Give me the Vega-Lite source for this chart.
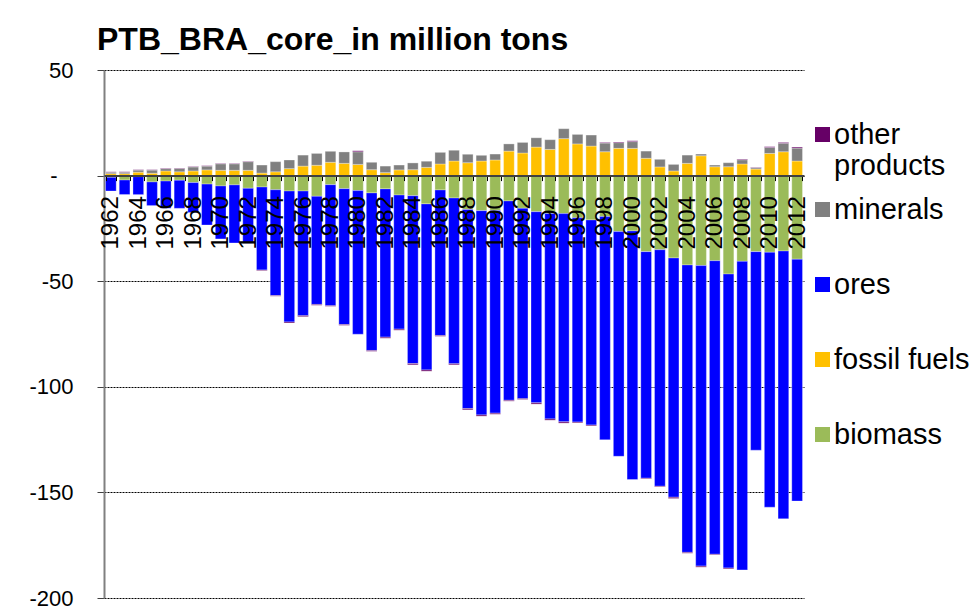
{
  "$schema": "https://vega.github.io/schema/vega-lite/v6.json",
  "autosize": "none",
  "width": 700,
  "height": 528,
  "padding": {"left": 104, "top": 70, "right": 168, "bottom": 12},
  "background": "white",
  "config": {
    "view": {"stroke": null},
    "font": "Liberation Sans"
  },
  "title": {
    "text": "PTB_BRA_core_in million tons",
    "anchor": "start",
    "frame": "group",
    "fontSize": 32,
    "fontWeight": "bold",
    "font": "Liberation Sans",
    "color": "black",
    "dx": -7,
    "offset": 2
  },
  "data": {
    "values": [
      {"year": 1962, "biomass": -0.8, "fossil fuels": 0.9, "ores": -6.5, "minerals": 0.7, "other products": 0.2},
      {"year": 1963, "biomass": -2.1, "fossil fuels": 0.9, "ores": -6.9, "minerals": 0.7, "other products": 0.2},
      {"year": 1964, "biomass": -0.5, "fossil fuels": 1.6, "ores": -8.5, "minerals": 1.0, "other products": 0.2},
      {"year": 1965, "biomass": -3.0, "fossil fuels": 1.1, "ores": -11.2, "minerals": 1.5, "other products": 0.2},
      {"year": 1966, "biomass": -2.6, "fossil fuels": 2.2, "ores": -12.9, "minerals": 1.1, "other products": 0.2},
      {"year": 1967, "biomass": -2.2, "fossil fuels": 1.8, "ores": -13.3, "minerals": 1.6, "other products": 0.2},
      {"year": 1968, "biomass": -3.3, "fossil fuels": 2.2, "ores": -14.2, "minerals": 1.9, "other products": 0.2},
      {"year": 1969, "biomass": -4.0, "fossil fuels": 2.7, "ores": -19.4, "minerals": 1.8, "other products": 0.2},
      {"year": 1970, "biomass": -4.9, "fossil fuels": 2.5, "ores": -25.1, "minerals": 3.1, "other products": 0.2},
      {"year": 1971, "biomass": -4.4, "fossil fuels": 2.5, "ores": -27.5, "minerals": 3.1, "other products": 0.2},
      {"year": 1972, "biomass": -6.0, "fossil fuels": 2.5, "ores": -26.0, "minerals": 4.1, "other products": 0.2},
      {"year": 1973, "biomass": -5.4, "fossil fuels": 1.2, "ores": -39.3, "minerals": 3.8, "other products": -0.3},
      {"year": 1974, "biomass": -6.7, "fossil fuels": 1.8, "ores": -50.1, "minerals": 4.8, "other products": -0.3},
      {"year": 1975, "biomass": -7.3, "fossil fuels": 3.3, "ores": -62.0, "minerals": 4.1, "other products": -0.5},
      {"year": 1976, "biomass": -7.3, "fossil fuels": 4.5, "ores": -59.0, "minerals": 5.2, "other products": -0.5},
      {"year": 1977, "biomass": -9.8, "fossil fuels": 4.9, "ores": -51.2, "minerals": 5.6, "other products": -0.4},
      {"year": 1978, "biomass": -4.3, "fossil fuels": 6.3, "ores": -57.3, "minerals": 5.2, "other products": -0.3},
      {"year": 1979, "biomass": -6.2, "fossil fuels": 5.8, "ores": -64.3, "minerals": 5.4, "other products": -0.4},
      {"year": 1980, "biomass": -7.1, "fossil fuels": 5.3, "ores": -68.0, "minerals": 6.0, "other products": 0.5},
      {"year": 1981, "biomass": -8.2, "fossil fuels": 2.8, "ores": -74.6, "minerals": 3.5, "other products": -0.4},
      {"year": 1982, "biomass": -6.3, "fossil fuels": 1.4, "ores": -70.2, "minerals": 3.1, "other products": -0.5},
      {"year": 1983, "biomass": -9.2, "fossil fuels": 2.7, "ores": -63.5, "minerals": 2.3, "other products": -0.5},
      {"year": 1984, "biomass": -9.5, "fossil fuels": 2.8, "ores": -79.5, "minerals": 3.2, "other products": -0.6},
      {"year": 1985, "biomass": -13.4, "fossil fuels": 3.9, "ores": -78.6, "minerals": 2.9, "other products": -0.6},
      {"year": 1986, "biomass": -6.8, "fossil fuels": 5.5, "ores": -68.9, "minerals": 5.5, "other products": -0.4},
      {"year": 1987, "biomass": -10.6, "fossil fuels": 6.9, "ores": -78.5, "minerals": 5.1, "other products": -0.5},
      {"year": 1988, "biomass": -16.0, "fossil fuels": 6.1, "ores": -94.3, "minerals": 4.0, "other products": -0.6},
      {"year": 1989, "biomass": -16.6, "fossil fuels": 6.9, "ores": -96.7, "minerals": 2.7, "other products": -0.6},
      {"year": 1990, "biomass": -16.5, "fossil fuels": 7.4, "ores": -96.0, "minerals": 2.8, "other products": -0.5},
      {"year": 1991, "biomass": -12.0, "fossil fuels": 11.6, "ores": -94.4, "minerals": 3.4, "other products": -0.4},
      {"year": 1992, "biomass": -15.5, "fossil fuels": 10.7, "ores": -90.1, "minerals": 5.0, "other products": -0.4},
      {"year": 1993, "biomass": -17.1, "fossil fuels": 13.5, "ores": -90.5, "minerals": 4.4, "other products": -0.6},
      {"year": 1994, "biomass": -17.9, "fossil fuels": 12.4, "ores": -97.3, "minerals": 4.6, "other products": -0.6},
      {"year": 1995, "biomass": -18.0, "fossil fuels": 17.5, "ores": -98.6, "minerals": 4.7, "other products": -0.6},
      {"year": 1996, "biomass": -20.0, "fossil fuels": 15.0, "ores": -96.7, "minerals": 4.5, "other products": -0.4},
      {"year": 1997, "biomass": -21.0, "fossil fuels": 14.0, "ores": -97.1, "minerals": 5.2, "other products": -0.4},
      {"year": 1998, "biomass": -19.4, "fossil fuels": 11.3, "ores": -105.7, "minerals": 4.1, "other products": 0.3},
      {"year": 1999, "biomass": -26.5, "fossil fuels": 12.9, "ores": -106.4, "minerals": 2.7, "other products": 0.3},
      {"year": 2000, "biomass": -26.2, "fossil fuels": 12.9, "ores": -117.7, "minerals": 3.2, "other products": 0.4},
      {"year": 2001, "biomass": -36.0, "fossil fuels": 8.2, "ores": -107.3, "minerals": 3.4, "other products": -0.3},
      {"year": 2002, "biomass": -35.1, "fossil fuels": 4.1, "ores": -112.0, "minerals": 3.6, "other products": -0.3},
      {"year": 2003, "biomass": -39.0, "fossil fuels": 2.2, "ores": -113.3, "minerals": 3.1, "other products": -0.6},
      {"year": 2004, "biomass": -42.3, "fossil fuels": 5.8, "ores": -136.1, "minerals": 3.9, "other products": -0.4},
      {"year": 2005, "biomass": -42.6, "fossil fuels": 9.4, "ores": -142.3, "minerals": 0.8, "other products": -0.5},
      {"year": 2006, "biomass": -40.3, "fossil fuels": 4.2, "ores": -139.0, "minerals": 0.8, "other products": -0.3},
      {"year": 2007, "biomass": -46.6, "fossil fuels": 4.2, "ores": -139.2, "minerals": 1.9, "other products": -0.4},
      {"year": 2008, "biomass": -40.6, "fossil fuels": 5.5, "ores": -146.1, "minerals": 2.0, "other products": 0.3},
      {"year": 2009, "biomass": -36.0, "fossil fuels": 3.1, "ores": -94.0, "minerals": 0.6, "other products": 0.2},
      {"year": 2010, "biomass": -36.3, "fossil fuels": 10.5, "ores": -120.7, "minerals": 2.8, "other products": 0.4},
      {"year": 2011, "biomass": -35.7, "fossil fuels": 11.3, "ores": -126.8, "minerals": 4.0, "other products": 0.4},
      {"year": 2012, "biomass": -39.6, "fossil fuels": 6.9, "ores": -114.5, "minerals": 6.1, "other products": 0.5}
    ]
  },
  "transform": [
    {"fold": ["biomass", "fossil fuels", "ores", "minerals", "other products"], "as": ["series", "value"]}
  ],
  "mark": {"type": "bar", "stroke": "white", "strokeWidth": 0.5, "strokeOpacity": 0.6},
  "encoding": {
    "x": {
      "field": "year",
      "type": "ordinal",
      "sort": "ascending",
      "scale": {"paddingInner": 0.22, "paddingOuter": 0.11},
      "axis": {
        "title": null,
        "orient": "bottom",
        "offset": -422.4,
        "zindex": 1,
        "labelAngle": -90,
        "labelFontSize": 24,
        "labelFont": "Liberation Sans",
        "labelColor": "black",
        "labelPadding": 15,
        "labelOverlap": false,
        "labelBound": false,
        "labelExpr": "datum.value % 2 == 0 ? datum.label : ''",
        "tickBand": "extent",
        "tickSize": 5,
        "tickColor": "black",
        "tickWidth": 1,
        "domainColor": "#404040",
        "domainWidth": 2,
        "grid": false
      }
    },
    "y": {
      "field": "value",
      "type": "quantitative",
      "stack": "zero",
      "scale": {"domain": [-200, 50], "nice": false},
      "axis": {
        "title": null,
        "values": [-200, -150, -100, -50, 0, 50],
        "labelFontSize": 22,
        "labelFont": "Liberation Sans",
        "labelColor": "black",
        "labelPadding": 24,
        "labelExpr": "datum.value == 0 ? '-\u2800' : '' + datum.value",
        "tickSize": 7,
        "tickColor": "#404040",
        "domainColor": "#808080",
        "domainWidth": 2,
        "grid": true,
        "gridColor": "black",
        "gridDash": [2, 1],
        "gridWidth": 1
      }
    },
    "color": {
      "field": "series",
      "type": "nominal",
      "scale": {
        "domain": ["other products", "minerals", "ores", "fossil fuels", "biomass"],
        "range": ["#660066", "#808080", "#0000FF", "#FFC000", "#9BBB59"]
      },
      "legend": {
        "orient": "none",
        "legendX": 704,
        "legendY": 50,
        "title": null,
        "padding": 0,
        "symbolType": "square",
        "symbolSize": 225,
        "symbolStrokeWidth": 0,
        "labelFontSize": 29,
        "labelFont": "Liberation Sans",
        "labelColor": "black",
        "labelOffset": -3,
        "labelLimit": 200,
        "rowPadding": 14,
        "gridAlign": "all",
        "labelExpr": "datum.label == 'other products' ? ['other', 'products'] : datum.label"
      }
    },
    "order": {"field": "series", "type": "nominal", "sort": "ascending"}
  }
}
